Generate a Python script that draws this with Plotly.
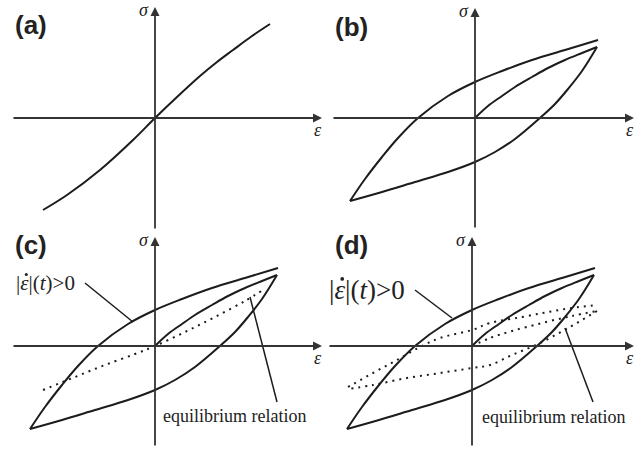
import plotly.graph_objects as go

W, H = 635, 457

# ---- values (strain, stress in arbitrary units) ----
# (a) nonlinear elastic stress-strain curve
a_eps = [-112, -88, -55, -22, 0, 22, 45, 62, 78, 97, 115]
a_sig = [-92, -77, -52, -22, 0, 21, 42, 56, 68, 82, 94]

# (b)-(d) hysteresis loop: loading (upper) branch, unloading (lower) branch, virgin curve
up_eps = [-125, -110, -93, -77, -57, -27, 0, 27, 57, 90, 123]
up_sig = [-83, -61, -39, -20, 0, 22, 36, 47, 58, 68, 78]
lo_eps = [122, 107, 93, 80, 65, 40, 20, 0, -27, -60, -93, -125]
lo_sig = [71, 47, 29, 14, 0, -21, -34, -44, -54, -64, -74, -83]
vi_eps = [0, 13, 27, 40, 57, 73, 90, 107, 122]
vi_sig = [0, 12, 22, 31, 41, 50, 58, 65, 71]

# (c) equilibrium relation
eq_eps = [-112, -80, -50, -20, 0, 30, 60, 90, 108]
eq_sig = [-44, -31, -19, -8, 0, 14, 29, 45, 56]

# (d) equilibrium hysteresis (dotted loop)
dq_up_eps = [-124, -99, -75, -52, -32, 0, 18, 50, 76, 100, 125]
dq_up_sig = [-41, -27, -14, -1, 8, 16, 23, 29, 34, 38, 41]
dq_lo_eps = [125, 96, 66, 40, 18, 0, -32, -65, -99, -124]
dq_lo_sig = [35, 18, 2, -9, -19, -22, -27, -32, -39, -43]
dq_vi_eps = [0, 18, 40, 70, 100, 125]
dq_vi_sig = [0, 8, 15, 23, 30, 35]

panel_names = ["(a)", "(b)", "(c)", "(d)"]
# origin of each panel's axes in page pixels (x from left, y from top)
origins = [(155, 118), (475, 118), (155, 346), (472, 346)]
# panel label position in page pixels (left edge, vertical centre)
label_pos = [(13, 25), (333, 27), (13, 245), (333, 245)]
# axis extents: (eps_start, eps_tip, sig_bottom, sig_tip)
extents = [(-143, 167, -112, 111), (-143, 159, -111, 110),
           (-143, 167, -101, 109), (-144, 162, -101, 109)]

INK = "#1c1c1c"
AXC = "#333333"
SERIF = "Liberation Serif, Times New Roman, serif"
SANS = "Liberation Sans, Arial, sans-serif"

fig = go.Figure()
layout_axes = {}
annotations = []
shapes = []

for i, (ox, oy) in enumerate(origins):
    n = "" if i == 0 else str(i + 1)
    xa, ya = "x" + n, "y" + n
    layout_axes["xaxis" + n] = dict(domain=[0, 1], range=[-ox, W - ox], visible=False,
                                    anchor=ya, fixedrange=True)
    layout_axes["yaxis" + n] = dict(domain=[0, 1], range=[oy - H, oy], visible=False,
                                    anchor=xa, fixedrange=True)
    e0, e1, s0, s1 = extents[i]
    # strain axis and stress axis with arrowheads
    for (x, y, ax_, ay_) in [(e1, 0, e0, 0), (0, s1, 0, s0)]:
        annotations.append(dict(x=x, y=y, ax=ax_, ay=ay_, xref=xa, yref=ya,
                                axref=xa, ayref=ya, text="", showarrow=True,
                                arrowhead=2, arrowsize=1, arrowwidth=1.8,
                                arrowcolor=AXC))
    # axis symbols
    annotations.append(dict(x=-11, y=s1 - 3, xref=xa, yref=ya, text="<i>σ</i>",
                            showarrow=False, font=dict(family=SERIF, size=18, color="#222")))
    annotations.append(dict(x=e1 - 4, y=-12, xref=xa, yref=ya, text="<i>ε</i>",
                            showarrow=False, xanchor="center",
                            font=dict(family=SERIF, size=18, color="#222")))
    # panel label
    lx, ly = label_pos[i]
    annotations.append(dict(x=lx - ox, y=oy - ly, xref=xa, yref=ya,
                            text="<b>%s</b>" % panel_names[i],
                            showarrow=False, xanchor="left", yanchor="middle",
                            font=dict(family=SANS, size=26, color="#222")))


def line(xs, ys, k, dash="solid", width=2.0, color=INK):
    n = "" if k == 0 else str(k + 1)
    fig.add_trace(go.Scatter(x=xs, y=ys, mode="lines", xaxis="x" + n, yaxis="y" + n,
                             line=dict(color=color, width=width, dash=dash,
                                       shape="spline", smoothing=1.0),
                             hoverinfo="skip", showlegend=False))


# (a)
line(a_eps, a_sig, 0)
# (b)-(d) solid hysteresis loops
for k in (1, 2, 3):
    line(up_eps, up_sig, k)
    line(lo_eps, lo_sig, k)
    line(vi_eps, vi_sig, k)
# (c) dotted equilibrium relation
line(eq_eps, eq_sig, 2, dash="2px,5px", width=2.0)
# (d) dotted equilibrium loop
line(dq_up_eps, dq_up_sig, 3, dash="2px,5px", width=2.0)
line(dq_lo_eps, dq_lo_sig, 3, dash="2px,5px", width=2.0)
line(dq_vi_eps, dq_vi_sig, 3, dash="2px,5px", width=2.0)

# labels and leader lines in (c) and (d)
rate_label = "|<i>ε</i>|(<i>t</i>)>0"
for k, size, tx, ty, leader, eqpos, eqlead in [
        (2, 21, -141, 63, (-70, 63, -22, 24), (79, -70), (95, 49, 122, -56)),
        (3, 27, -145, 56, (-57, 56, -20, 28), (81, -71), (93, 18, 121, -56))]:
    n = str(k + 1)
    annotations.append(dict(x=tx, y=ty, xref="x" + n, yref="y" + n, text=rate_label,
                            showarrow=False, xanchor="left", yanchor="middle",
                            font=dict(family=SERIF, size=size, color="#222")))
    # time-derivative dot over the strain symbol
    fig.add_trace(go.Scatter(x=[tx + 2 + 0.49 * size], y=[ty + 0.41 * size],
                             mode="markers", xaxis="x" + n, yaxis="y" + n,
                             marker=dict(symbol="circle", size=0.12 * size + 0.5,
                                         color="#222", line=dict(width=0)),
                             hoverinfo="skip", showlegend=False))
    annotations.append(dict(x=eqpos[0], y=eqpos[1], xref="x" + n, yref="y" + n,
                            text="equilibrium relation", showarrow=False,
                            xanchor="center", yanchor="middle",
                            font=dict(family=SERIF, size=18, color="#222")))
    for (x0, y0, x1, y1) in [leader, eqlead]:
        shapes.append(dict(type="line", xref="x" + n, yref="y" + n, x0=x0, y0=y0,
                           x1=x1, y1=y1, line=dict(color=INK, width=1.5)))

fig.update_layout(width=W, height=H, margin=dict(l=0, r=0, t=0, b=0, pad=0),
                  paper_bgcolor="white", plot_bgcolor="rgba(0,0,0,0)",
                  annotations=annotations, shapes=shapes, **layout_axes)

fig.write_html("out.html")
